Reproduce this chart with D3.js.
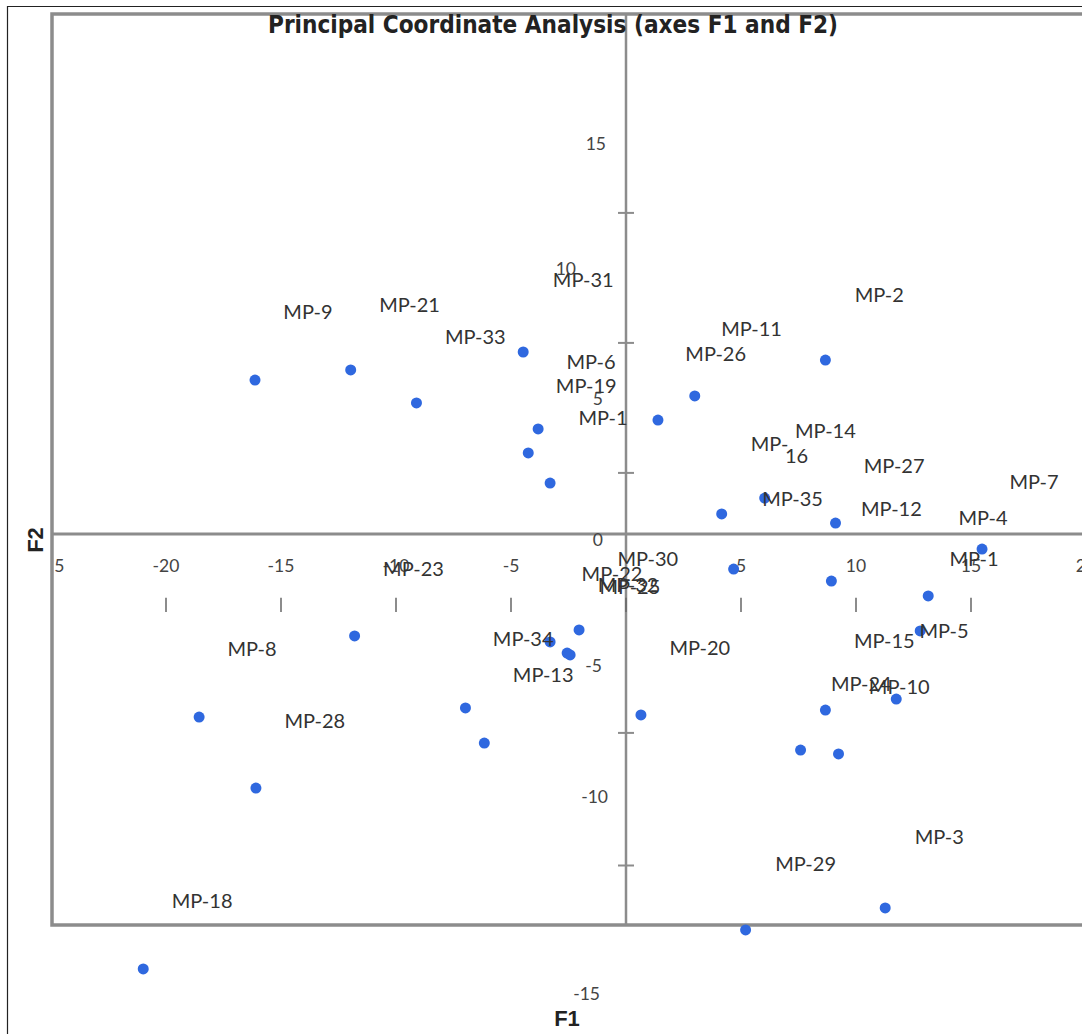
<!DOCTYPE html>
<html>
<head>
<meta charset="utf-8">
<script src="https://cdn.jsdelivr.net/npm/d3@7"></script>
<style>
  body { margin: 0; background: #fff; }
  svg { display: block; }
</style>
</head>
<body>
<svg id="chart" width="1082" height="1034"></svg>
<script>
// point coordinates (F1, F2)
const pointF1 = [-16.13, -11.97, -9.11, -4.47, -3.82, -4.25, -3.30, 1.39, 2.99, 8.67,
  4.16, 6.03, 9.11, 15.48, 4.68, 8.93, 13.14, 12.79, -2.04, -3.30,
  -2.56, -2.43, -11.80, -18.56, -6.98, -6.16, 0.65, 8.67, 11.75, 7.59,
  9.24, -16.09, 11.27, 5.20, -20.99];
const pointF2 = [5.92, 6.31, 5.04, 7.00, 4.04, 3.12, 1.96, 4.38, 5.31, 6.69,
  0.77, 1.38, 0.42, -0.58, -1.35, -1.81, -2.38, -3.73, -3.69, -4.15,
  -4.58, -4.65, -3.92, -7.04, -6.69, -8.04, -6.96, -6.77, -6.35, -8.31,
  -8.46, -9.77, -14.38, -15.23, -16.73];

// sample labels, as placed on the picture
const labelText = ['MP-9', 'MP-21', 'MP-33', 'MP-31', 'MP-6', 'MP-19', 'MP-1', 'MP-2', 'MP-11', 'MP-26',
  'MP-14', 'MP-16', 'MP-27', 'MP-7', 'MP-35', 'MP-12', 'MP-4', 'MP-1', 'MP-23', 'MP-30',
  'MP-22', 'MP-32', 'MP-25', 'MP-34', 'MP-5', 'MP-15', 'MP-8', 'MP-20', 'MP-13', 'MP-24',
  'MP-10', 'MP-28', 'MP-3', 'MP-29', 'MP-18'];
const labelF1 = [-13.83, -9.41, -6.55, -1.86, -1.52, -1.73, -1.00, 11.01, 5.46, 3.90,
  8.67, 6.72, 11.66, 17.74, 7.24, 11.54, 15.52, 15.13, -9.24, 0.95,
  -0.61, 0.09, 0.17, -4.47, 13.83, 11.23, -16.26, 3.21, -3.60, 10.23,
  11.88, -13.53, 13.62, 7.81, -18.43];
const labelF2 = [8.58, 8.85, 7.62, 9.81, 6.65, 5.73, 4.50, 9.23, 7.92, 6.96,
  4.00, 3.27, 2.65, 2.04, 1.38, 1.00, 0.65, -0.92, -1.31, -0.92,
  -1.50, -1.92, -2.00, -4.00, -3.69, -4.08, -4.38, -4.35, -5.38, -5.73,
  -5.85, -7.15, -11.62, -12.65, -14.08];

// axis ticks
const xTickLabels = [-25, -20, -15, -10, -5, 5, 10, 15, 20];
const yTickLabels = [15, 10, 5, 0, -5, -10, -15];
const xTickMarks = [-20, -15, -10, -5, 0, 5, 10, 15];
const yTickMarks = [12.35, 7.35, 2.35, -7.65, -12.75];

const svg = d3.select('#chart');

// scales
const x = d3.scaleLinear().domain([-20, 15]).range([166, 971]);
const y = d3.scaleLinear().domain([15, -10]).range([144, 794]);

const box = { left: 52, top: 14, right: 1092, bottom: 925 };
const axisColor = '#8c8c8c';
const labelFont = 'Lato, "Open Sans", sans-serif';

// y tick labels sit a little off their ticks in the reference
const yLabelShift = { 15: [0, -1], 10: [-30, -6], 5: [-3, -6], 0: [-3, 5], '-5': [-4, 1], '-10': [2, 2], '-15': [-6, 69] };

// outer frame
svg.append('path')
  .attr('d', 'M7.5,1034 V6.5 H1082')
  .attr('fill', 'none')
  .attr('stroke', '#222')
  .attr('stroke-width', 1.2);

// plot box
svg.append('rect')
  .attr('x', box.left)
  .attr('y', box.top)
  .attr('width', box.right - box.left)
  .attr('height', box.bottom - box.top)
  .attr('fill', 'none')
  .attr('stroke', axisColor)
  .attr('stroke-width', 3.5);

// clip for the x tick labels (they get cut at the box edge)
svg.append('clipPath').attr('id', 'boxClip')
  .append('rect')
  .attr('x', box.left + 2)
  .attr('y', 0)
  .attr('width', 1082)
  .attr('height', 1034);

// axes through zero
svg.append('line')
  .attr('x1', x(0)).attr('x2', x(0))
  .attr('y1', box.top).attr('y2', box.bottom)
  .attr('stroke', axisColor)
  .attr('stroke-width', 2.5);

svg.append('line')
  .attr('x1', box.left).attr('x2', box.right)
  .attr('y1', y(0)).attr('y2', y(0))
  .attr('stroke', axisColor)
  .attr('stroke-width', 3);

// tick marks
svg.append('g').selectAll('line')
  .data(yTickMarks)
  .join('line')
  .attr('x1', x(0) - 8).attr('x2', x(0) + 8)
  .attr('y1', (d) => y(d)).attr('y2', (d) => y(d))
  .attr('stroke', axisColor)
  .attr('stroke-width', 2);

svg.append('g').selectAll('line')
  .data(xTickMarks)
  .join('line')
  .attr('x1', (d) => x(d)).attr('x2', (d) => x(d))
  .attr('y1', y(-2.45)).attr('y2', y(-3.0))
  .attr('stroke', '#666')
  .attr('stroke-width', 1.5);

// tick labels
svg.append('g')
  .attr('clip-path', 'url(#boxClip)')
  .selectAll('text')
  .data(xTickLabels)
  .join('text')
  .attr('x', (d) => x(d))
  .attr('y', y(-1.2))
  .attr('text-anchor', 'middle')
  .attr('dominant-baseline', 'central')
  .style('font-family', labelFont)
  .style('font-size', '17.5px')
  .style('fill', '#444')
  .text((d) => d);

svg.append('g').selectAll('text')
  .data(yTickLabels)
  .join('text')
  .attr('x', (d) => x(0) - 20 + yLabelShift[d][0])
  .attr('y', (d) => y(d) + yLabelShift[d][1])
  .attr('text-anchor', 'end')
  .attr('dominant-baseline', 'central')
  .style('font-family', labelFont)
  .style('font-size', '17.5px')
  .style('fill', '#444')
  .text((d) => d);

// points
const points = pointF1.map((v, i) => ({ f1: v, f2: pointF2[i] }));
svg.append('g').selectAll('circle')
  .data(points)
  .join('circle')
  .attr('cx', (d) => x(d.f1))
  .attr('cy', (d) => y(d.f2))
  .attr('r', 5.5)
  .attr('fill', '#2f68df');

// sample labels
const labels = labelText.map((t, i) => ({ text: t, f1: labelF1[i], f2: labelF2[i] }));
const labelSel = svg.append('g').selectAll('text')
  .data(labels)
  .join('text')
  .attr('x', (d) => x(d.f1))
  .attr('y', (d) => y(d.f2))
  .attr('text-anchor', 'middle')
  .attr('dominant-baseline', 'central')
  .style('font-family', labelFont)
  .style('font-size', '20px')
  .style('fill', '#333');

labelSel.each(function (d) {
  const t = d3.select(this);
  if (d.text === 'MP-16') {
    // this one wraps onto two lines in the reference
    t.append('tspan').attr('x', x(d.f1) - 11).attr('dy', -6).text('MP-');
    t.append('tspan').attr('x', x(d.f1) + 16).attr('dy', 12).text('16');
  } else {
    t.text(d.text);
  }
});

// title
svg.append('text')
  .attr('x', 553)
  .attr('y', 25)
  .attr('text-anchor', 'middle')
  .attr('dominant-baseline', 'central')
  .attr('textLength', 570)
  .attr('lengthAdjust', 'spacingAndGlyphs')
  .style('font-family', '"DejaVu Sans Condensed", "Liberation Sans Narrow", sans-serif')
  .style('font-stretch', 'condensed')
  .style('font-weight', 'bold')
  .style('font-size', '24px')
  .style('fill', '#222')
  .text('Principal Coordinate Analysis (axes F1 and F2)');

// axis titles
svg.append('text')
  .attr('x', 567)
  .attr('y', 1018)
  .attr('text-anchor', 'middle')
  .attr('dominant-baseline', 'central')
  .style('font-family', '"Liberation Sans", Arial, sans-serif')
  .style('font-weight', 'bold')
  .style('font-size', '22px')
  .style('fill', '#222')
  .text('F1');

svg.append('text')
  .attr('transform', 'translate(35,540) rotate(-90)')
  .attr('text-anchor', 'middle')
  .attr('dominant-baseline', 'central')
  .style('font-family', '"Liberation Sans", Arial, sans-serif')
  .style('font-weight', 'bold')
  .style('font-size', '22px')
  .style('fill', '#222')
  .text('F2');
</script>
</body>
</html>
